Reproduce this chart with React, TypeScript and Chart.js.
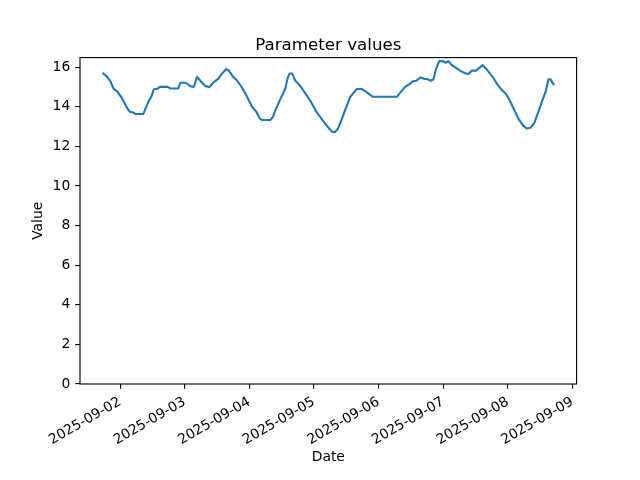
import React, { useEffect, useRef } from "react";
import { Chart, registerables } from "chart.js";

Chart.register(...registerables);

const TITLE = "Parameter values";
const X_LABEL = "Date";
const Y_LABEL = "Value";
const START = "2025-09-01T17:30:00Z";

const hoursFromStart = [
  0, 1.7, 3, 4, 5.5, 6.9, 8.2, 9.2, 10.1, 11.4,
  12.2, 15.1, 16, 17.2, 18.1, 19, 20.5, 21.3, 24.2, 25.2,
  28.1, 28.9, 30.8, 32.6, 33.9, 35.1, 36.6, 38.2, 39.8, 41.1,
  43.1, 44.4, 46, 46.9, 48.5, 50, 51.8, 53.7, 55.5, 57.1,
  58.4, 59.2, 62.3, 63.3, 64.2, 66, 67.9, 68.7, 69.5, 70.4,
  71.6, 73.2, 75.3, 77.4, 79.4, 81.5, 83.6, 85.2, 86.2, 87.3,
  88.5, 90.1, 92, 93.6, 94.5, 96.3, 98.2, 100.4, 109.3, 110.9,
  112.4, 114.3, 115.3, 116.5, 118.2, 119.5, 120.5, 121.9, 122.9, 123.9,
  125.1, 126.4, 127.4, 128.5, 129.7, 131.6, 133.4, 135, 135.9, 137.1,
  138.7, 140.2, 141.2, 142.9, 144.9, 146.6, 148.3, 149.9, 151.3, 152.8,
  154.4, 156.1, 157.5, 159, 160.3, 161.9, 163.5, 164.6, 165.6, 166.4, 167.7,
];

const values = [
  15.71, 15.51, 15.26, 14.92, 14.76, 14.5, 14.17, 13.92, 13.75, 13.71,
  13.63, 13.63, 13.92, 14.3, 14.5, 14.87, 14.92, 15.0, 15.0, 14.92,
  14.92, 15.21, 15.21, 15.04, 15.0, 15.51, 15.26, 15.04, 15.0, 15.21,
  15.43, 15.68, 15.9, 15.82, 15.51, 15.31, 14.97, 14.5, 14.0, 13.75,
  13.41, 13.33, 13.33, 13.49, 13.83, 14.37, 14.92, 15.43, 15.68, 15.68,
  15.31, 15.09, 14.67, 14.25, 13.75, 13.36, 12.99, 12.74, 12.71, 12.86,
  13.24, 13.83, 14.5, 14.76, 14.89, 14.89, 14.72, 14.5, 14.5, 14.76,
  15.0, 15.17, 15.29, 15.31, 15.48, 15.4, 15.4, 15.31, 15.38, 15.93,
  16.3, 16.3, 16.22, 16.3, 16.1, 15.93, 15.77, 15.68, 15.65, 15.82,
  15.82, 15.99, 16.1, 15.85, 15.51, 15.14, 14.84, 14.64, 14.3, 13.87,
  13.41, 13.07, 12.9, 12.94, 13.16, 13.75, 14.37, 14.76, 15.38, 15.38, 15.09,
];

const dayTicks = [
  "2025-09-02", "2025-09-03", "2025-09-04", "2025-09-05",
  "2025-09-06", "2025-09-07", "2025-09-08", "2025-09-09",
];
const yTicks = [0, 2, 4, 6, 8, 10, 12, 14, 16];

const HOUR = 3600 * 1000;
const FONT = "'DejaVu Sans', sans-serif";
const PT = 100 / 72;

export default function App() {
  const ref = useRef<HTMLCanvasElement | null>(null);

  useEffect(() => {
    const canvas = ref.current;
    if (!canvas) return;
    const start = Date.parse(START);
    const pts = hoursFromStart.map((h, i) => ({ x: start + h * HOUR, y: values[i] }));
    const xs = pts.map((p) => p.x);
    const xMinD = Math.min(...xs);
    const xMaxD = Math.max(...xs);
    const xr = xMaxD - xMinD;
    const ys = values;
    const yMaxD = Math.max(...ys);
    const yMinD = Math.min(...ys);
    const yMax = yMaxD + 0.05 * (yMaxD - yMinD);

    const textPlugin = {
      id: "mplText",
      afterDraw(chart: any) {
        const { ctx, chartArea } = chart;
        ctx.save();
        ctx.strokeStyle = "#000";
        ctx.lineWidth = 0.8 * PT;
        ctx.strokeRect(chartArea.left, chartArea.top, chartArea.right - chartArea.left, chartArea.bottom - chartArea.top);
        ctx.fillStyle = "#000";
        const cx = (chartArea.left + chartArea.right) / 2;
        ctx.textAlign = "center";
        ctx.textBaseline = "alphabetic";
        ctx.font = `${12 * PT}px ${FONT}`;
        ctx.fillText(TITLE, cx, 50);
        ctx.font = `${10 * PT}px ${FONT}`;
        ctx.fillText(X_LABEL, cx, 461);
        ctx.translate(38, (chartArea.top + chartArea.bottom) / 2);
        ctx.rotate(-Math.PI / 2);
        ctx.textBaseline = "middle";
        ctx.fillText(Y_LABEL, 0, 0);
        ctx.restore();
      },
    };

    const chart = new Chart(canvas, {
      type: "line",
      data: {
        datasets: [
          {
            data: pts,
            borderColor: "#1f77b4",
            borderWidth: 1.5 * PT,
            pointRadius: 0,
            tension: 0,
            fill: false,
            borderJoinStyle: "round",
            borderCapStyle: "butt",
          },
        ],
      },
      options: {
        animation: false,
        responsive: true,
        maintainAspectRatio: false,
        devicePixelRatio: 1,
        layout: { padding: { top: 57.6, right: 640 - 576.6, bottom: 0, left: 0 } },
        plugins: {
          legend: { display: false },
          title: { display: false },
          tooltip: { enabled: false },
        },
        scales: {
          x: {
            type: "linear",
            min: xMinD - 0.05 * xr,
            max: xMaxD + 0.05 * xr,
            afterBuildTicks: (scale: any) => {
              scale.ticks = dayTicks.map((d) => ({ value: Date.parse(d + "T00:00:00Z") }));
            },
            afterFit: (scale: any) => {
              scale.height = 96;
            },
            border: { display: false },
            grid: {
              display: true,
              drawOnChartArea: false,
              drawTicks: true,
              tickLength: 3.5 * PT,
              color: "#000",
              lineWidth: 0.8 * PT,
            },
            ticks: {
              autoSkip: false,
              minRotation: 30,
              maxRotation: 30,
              padding: 3.5 * PT,
              color: "#000",
              font: { family: FONT, size: 10 * PT },
              callback: (v: any) => new Date(v).toISOString().slice(0, 10),
            },
          },
          y: {
            type: "linear",
            min: 0,
            max: yMax,
            afterBuildTicks: (scale: any) => {
              scale.ticks = yTicks.map((v) => ({ value: v }));
            },
            afterFit: (scale: any) => {
              scale.width = 80;
            },
            border: { display: false },
            grid: {
              display: true,
              drawOnChartArea: false,
              drawTicks: true,
              tickLength: 3.5 * PT,
              color: "#000",
              lineWidth: 0.8 * PT,
            },
            ticks: {
              padding: 3.5 * PT,
              color: "#000",
              font: { family: FONT, size: 10 * PT },
              callback: (v: any) => String(v),
            },
          },
        },
      },
      plugins: [textPlugin],
    } as any);

    return () => chart.destroy();
  }, []);

  return (
    <div style={{ position: "fixed", left: 0, top: 0, width: 640, height: 480, background: "#fff" }}>
      <canvas ref={ref} />
    </div>
  );
}
